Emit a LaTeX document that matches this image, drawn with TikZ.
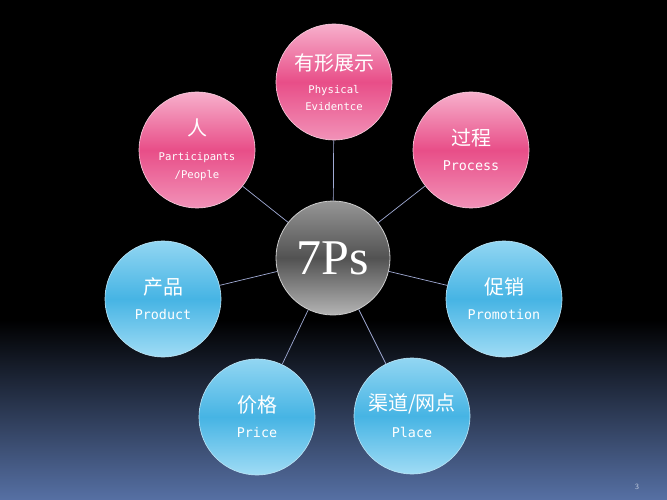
\documentclass[tikz,border=0pt]{standalone}
\usepackage{fontspec}
\usepackage{tikz}
\newfontfamily\cjk{Noto Sans CJK SC}
\newfontfamily\latinmono{DejaVu Sans Mono}
\newfontfamily\titleserif{Liberation Serif}
\definecolor{pinktop}{RGB}{247,176,204}
\definecolor{pinkmid}{RGB}{232,78,136}
\definecolor{pinkbot}{RGB}{242,146,184}
\definecolor{bluetop}{RGB}{146,214,242}
\definecolor{bluemid}{RGB}{70,180,228}
\definecolor{bluebot}{RGB}{160,220,245}
\definecolor{graytop}{RGB}{150,150,150}
\definecolor{graymid}{RGB}{82,82,82}
\definecolor{graybot}{RGB}{180,180,180}
\definecolor{spoke}{RGB}{160,170,212}
\definecolor{bgbottom}{RGB}{86,112,164}
\newcommand{\ptitle}[1]{{\cjk\fontsize{20}{24}\selectfont #1}}
\newcommand{\psub}[1]{{\latinmono\fontsize{13.4}{17}\selectfont #1}}
\newcommand{\psmall}[1]{{\latinmono\fontsize{10.6}{16}\selectfont #1}}

\begin{document}
\begin{tikzpicture}[x=1pt,y=-1pt]
\tikzstyle{every node}+=[text=white]
\tikzstyle{ball}=[circle,minimum size=116pt,inner sep=0pt,align=center,font=\fontsize{10}{12}\selectfont]
\tikzstyle{pinkball}=[ball,top color=pinktop,bottom color=pinkbot,middle color=pinkmid,draw=pinktop!60!white,line width=0.6pt]
\tikzstyle{blueball}=[ball,top color=bluetop,bottom color=bluebot,middle color=bluemid,draw=bluetop!60!white,line width=0.6pt]
\tikzstyle{hubball}=[ball,minimum size=114pt,top color=graytop,bottom color=graybot,middle color=graymid,draw=graybot!70!white,line width=0.8pt]
\useasboundingbox (0,0) rectangle (667,500);
% background
\fill [black] (0,0) rectangle (667,500);
\shade [top color=black,bottom color=bgbottom] (0,320) rectangle (667,500);
% hub and the seven Ps
\node [hubball] (hub) at (333,258) {\titleserif\fontsize{50}{50}\selectfont 7Ps};
\node [pinkball] (evidence) at (334,82) {\ptitle{有形展示}\\[11pt]\psmall{Physical}\\[5pt]\psmall{Evidentce}};
\node [pinkball] (people) at (197,150) {\ptitle{人}\\[13pt]\psmall{Participants}\\[6pt]\psmall{/People}};
\node [pinkball] (process) at (471,150) {\ptitle{过程}\\[13pt]\psub{Process}};
\node [blueball] (product) at (163,299) {\ptitle{产品}\\[13pt]\psub{Product}};
\node [blueball] (promotion) at (504,299) {\ptitle{促销}\\[13pt]\psub{Promotion}};
\node [blueball] (price) at (257,417) {\ptitle{价格}\\[13pt]\psub{Price}};
\node [blueball] (place) at (412,416) {\ptitle{渠道/网点}\\[12pt]\psub{Place}};
% spokes
\foreach \p in {evidence,people,process,product,promotion,price,place}
  \draw [spoke,line width=0.7pt] (hub) -- (\p);
\node [text=bgbottom!40!white,font=\sffamily\fontsize{8}{9}\selectfont] (pagenum) at (637,487) {3};
\end{tikzpicture}
\end{document}
